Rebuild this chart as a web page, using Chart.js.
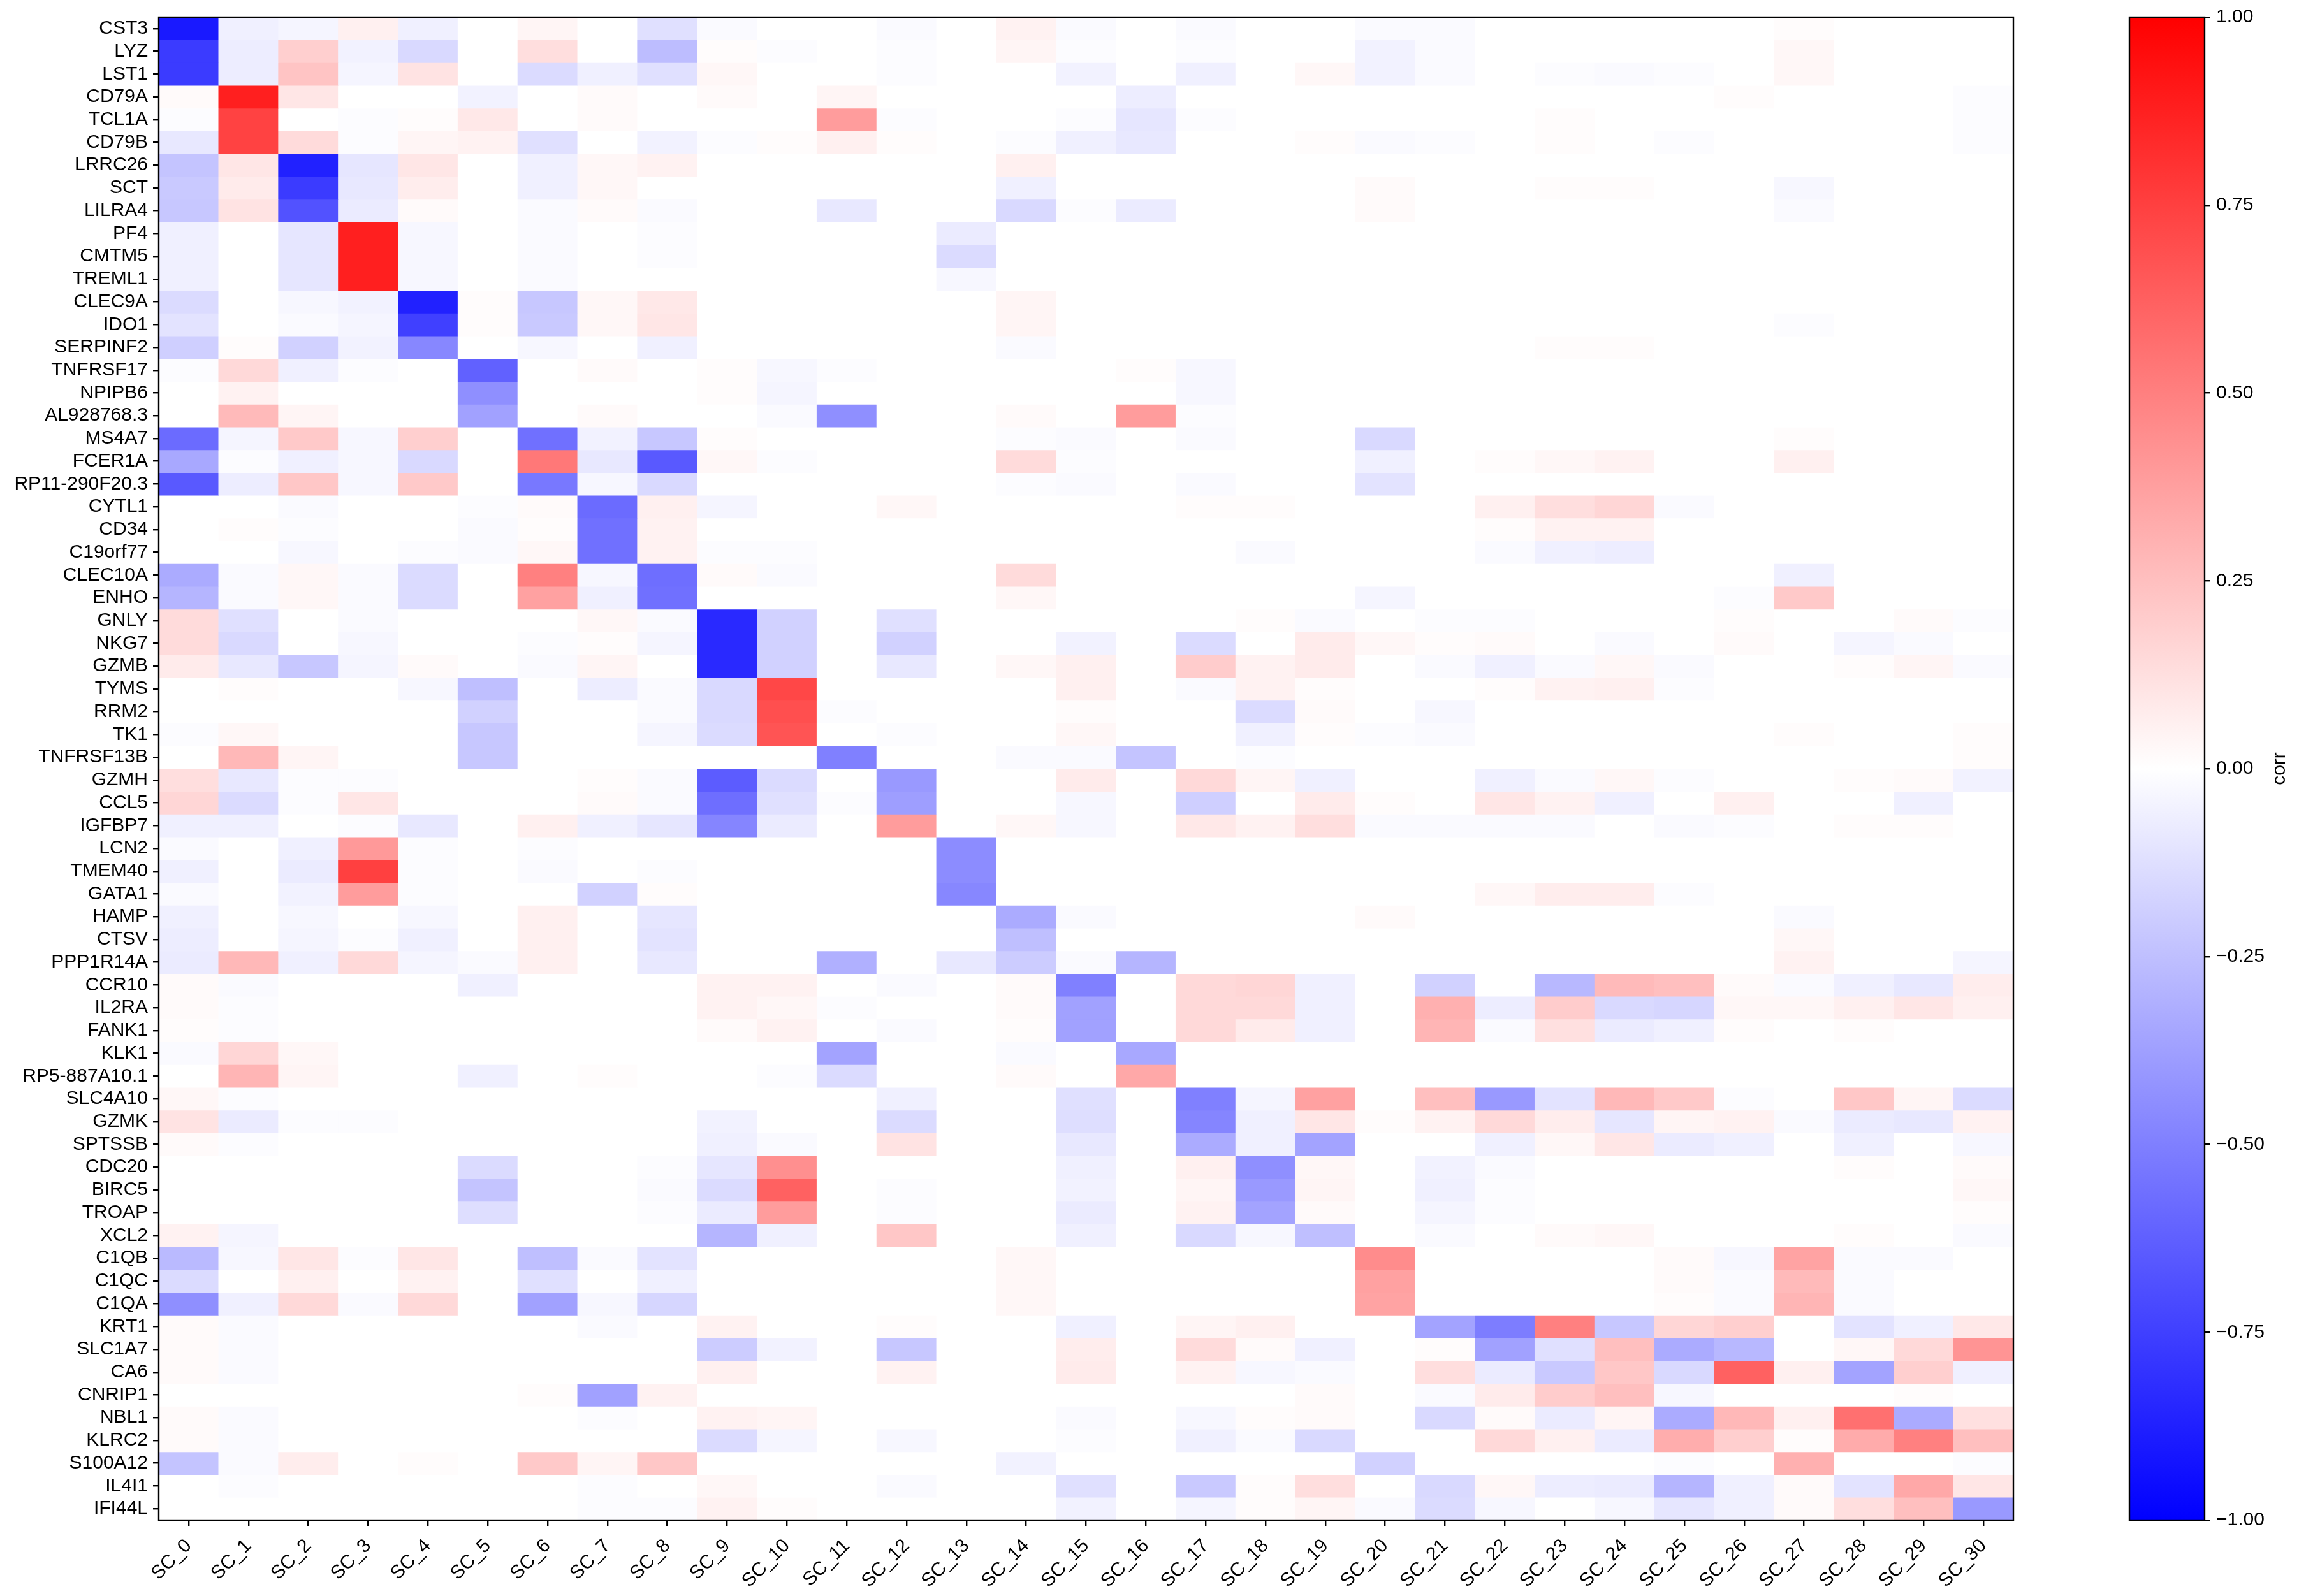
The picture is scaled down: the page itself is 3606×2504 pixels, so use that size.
<!DOCTYPE html>
<html>
<head>
<meta charset="utf-8">
<script src="https://cdn.jsdelivr.net/npm/chart.js@4.4.1/dist/chart.umd.min.js"></script>
<style>
  html, body { margin: 0; padding: 0; background: #fff; }
  #wrap { position: relative; width: 3606px; height: 2504px; }
  canvas { position: absolute; left: 0; top: 0; }
</style>
</head>
<body>
<div id="wrap">
  <canvas id="heatmap" width="3606" height="2504"></canvas>
  <canvas id="colorbar" width="3606" height="2504"></canvas>
</div>
<script>
// Row labels (genes), top to bottom
const genes = [
  'CST3', 'LYZ', 'LST1', 'CD79A', 'TCL1A', 'CD79B', 'LRRC26', 'SCT', 'LILRA4', 'PF4',
  'CMTM5', 'TREML1', 'CLEC9A', 'IDO1', 'SERPINF2', 'TNFRSF17', 'NPIPB6', 'AL928768.3', 'MS4A7', 'FCER1A',
  'RP11-290F20.3', 'CYTL1', 'CD34', 'C19orf77', 'CLEC10A', 'ENHO', 'GNLY', 'NKG7', 'GZMB', 'TYMS',
  'RRM2', 'TK1', 'TNFRSF13B', 'GZMH', 'CCL5', 'IGFBP7', 'LCN2', 'TMEM40', 'GATA1', 'HAMP',
  'CTSV', 'PPP1R14A', 'CCR10', 'IL2RA', 'FANK1', 'KLK1', 'RP5-887A10.1', 'SLC4A10', 'GZMK', 'SPTSSB',
  'CDC20', 'BIRC5', 'TROAP', 'XCL2', 'C1QB', 'C1QC', 'C1QA', 'KRT1', 'SLC1A7', 'CA6',
  'CNRIP1', 'NBL1', 'KLRC2', 'S100A12', 'IL4I1', 'IFI44L'
];

// Column labels (components)
const components = [
  'SC_0', 'SC_1', 'SC_2', 'SC_3', 'SC_4', 'SC_5', 'SC_6', 'SC_7', 'SC_8', 'SC_9',
  'SC_10', 'SC_11', 'SC_12', 'SC_13', 'SC_14', 'SC_15', 'SC_16', 'SC_17', 'SC_18', 'SC_19',
  'SC_20', 'SC_21', 'SC_22', 'SC_23', 'SC_24', 'SC_25', 'SC_26', 'SC_27', 'SC_28', 'SC_29', 'SC_30'
];

// Colorbar ticks
const cbarTicks = [-1, -0.75, -0.5, -0.25, 0, 0.25, 0.5, 0.75, 1];

// Correlation values, one row per gene, one column per component
const corr = [
  [-0.9,-0.06,-0.04,0.06,-0.06,0,0.04,0,-0.12,-0.02,0,0,-0.02,0,0.05,-0.02,0,-0.02,0,0,-0.02,-0.02,0,0,0,0,0,0.01,0,0,0],
  [-0.77,-0.07,0.19,-0.05,-0.15,0,0.13,0,-0.26,0.01,-0.01,0,-0.01,0,0.04,-0.01,0,-0.01,0,0,-0.05,-0.02,0,0,0,0,0,0.03,0,0,0],
  [-0.77,-0.07,0.23,-0.04,0.11,0,-0.14,-0.06,-0.12,0.03,0,0,-0.01,0,0,-0.05,0,-0.06,0,0.03,-0.05,-0.02,0,-0.01,-0.02,-0.01,0,0.03,0,0,0],
  [0.02,0.88,0.1,0,0,-0.05,0,0.02,0,0.02,0,0.04,0,0,0,0,-0.07,0,0,0,0,0,0,0,0,0,0.01,0,0,0,-0.01],
  [-0.01,0.74,0,-0.01,0.01,0.09,0,0.02,0,0,0,0.39,-0.01,0,0,-0.01,-0.1,-0.01,0,0,0,0,0,0.01,0,0,0,0,0,0,-0.01],
  [-0.09,0.74,0.14,-0.01,0.04,0.05,-0.12,0,-0.05,-0.01,0.01,0.06,0.01,0,-0.01,-0.06,-0.09,0,0,0.01,-0.02,-0.01,0,0.01,0,-0.01,0,0,0,0,-0.01],
  [-0.23,0.1,-0.87,-0.1,0.1,0,-0.06,0.03,0.05,0,0,0,0,0,0.06,0,0,0,0,0,0,0,0,0,0,0,0,0,0,0,0],
  [-0.21,0.08,-0.77,-0.09,0.07,0,-0.06,0.03,0,0,0,0,0,0,-0.06,0,0,0,0,0,0.02,0,0,0.01,0.01,0,0,-0.03,0,0,0],
  [-0.22,0.11,-0.68,-0.08,0.02,0,-0.02,0.02,-0.02,0,0,-0.09,0,0,-0.15,-0.01,-0.08,0,0,0,0.02,0,0,0,0,0,0,-0.02,0,0,0],
  [-0.06,0,-0.1,0.88,-0.03,0,-0.02,0,-0.01,0,0,0,0,-0.08,0,0,0,0,0,0,0,0,0,0,0,0,0,0,0,0,0],
  [-0.06,0,-0.1,0.88,-0.03,0,-0.02,0,-0.01,0,0,0,0,-0.14,0,0,0,0,0,0,0,0,0,0,0,0,0,0,0,0,0],
  [-0.06,0,-0.1,0.88,-0.03,0,-0.02,0,0,0,0,0,0,-0.03,0,0,0,0,0,0,0,0,0,0,0,0,0,0,0,0,0],
  [-0.14,0,-0.03,-0.05,-0.87,0.01,-0.22,0.03,0.09,0,0,0,0,0,0.04,0,0,0,0,0,0,0,0,0,0,0,0,0,0,0,0],
  [-0.11,0,-0.02,-0.04,-0.75,0.01,-0.21,0.03,0.1,0,0,0,0,0,0.04,0,0,0,0,0,0,0,0,0,0,0,0,-0.01,0,0,0],
  [-0.19,0.01,-0.18,-0.05,-0.47,0,-0.03,0,-0.06,0,0,0,0,0,-0.02,0,0,0,0,0,0,0,0,0.01,0.01,0,0,0,0,0,0],
  [-0.01,0.15,-0.06,-0.01,0,-0.62,0,0.02,0,0.01,-0.03,-0.01,0,0,0,0,0.01,-0.03,0,0,0,0,0,0,0,0,0,0,0,0,0],
  [0,0.05,0,0,0,-0.44,0,0,0,0.01,-0.04,0,0,0,0,0,0,-0.03,0,0,0,0,0,0,0,0,0,0,0,0,0],
  [0,0.27,0.04,0,0,-0.37,0,0.02,0,0,-0.02,-0.44,0,0,0.02,0,0.39,-0.01,0,0,0,0,0,0,0,0,0,0,0,0,0],
  [-0.58,-0.04,0.21,-0.03,0.19,0,-0.56,-0.05,-0.22,0.01,0,0,0,0,-0.01,-0.02,0,-0.02,0,0,-0.15,0,0,0,0,0,0,0.01,0,0,0],
  [-0.34,-0.01,-0.06,-0.03,-0.15,0,0.53,-0.09,-0.65,0.03,-0.01,0,0,0,0.14,-0.01,0,0,0,0,-0.06,0,0.01,0.03,0.05,0,0,0.06,0,0,0],
  [-0.65,-0.07,0.22,-0.03,0.21,0,-0.53,-0.03,-0.15,0,0,0,0,0,-0.01,-0.02,0,-0.02,0,0,-0.11,0,0,0,0,0,0,0,0,0,0],
  [0,0,-0.02,0,0,-0.01,0.02,-0.58,0.06,-0.04,0,0,0.03,0,0,0,0,0.01,0.01,0,0,0,0.06,0.13,0.16,-0.02,0,0,0,0,0],
  [0,0.01,-0.01,0,0,-0.02,0.01,-0.56,0.05,0,0,0,0,0,0,0,0,0,0,0,0,0,0.01,0.05,0.05,0,0,0,0,0,0],
  [0,0,-0.03,0,-0.01,-0.02,0.03,-0.56,0.05,-0.01,-0.01,0,0,0,0,0,0,0,-0.02,0,0,0,-0.02,-0.06,-0.07,0,0,0,0,0,0],
  [-0.33,-0.02,0.03,-0.02,-0.14,0,0.5,-0.03,-0.57,0.02,-0.02,0,0,0,0.14,0,0,0,0,0,0,0,0,0,0,0,0,-0.06,0,0,0],
  [-0.29,-0.02,0.03,-0.02,-0.14,0,0.37,-0.06,-0.56,0,0,0,0,0,0.03,0,0,0,0,0,-0.04,0,0,0,0,0,-0.01,0.21,0,0,0],
  [0.14,-0.12,0,-0.02,0,0,0,0.03,-0.02,-0.84,-0.18,0,-0.12,0,0,0,0,0,0.01,-0.02,0,-0.01,-0.01,0,0,0,0.01,0,0,0.02,-0.01],
  [0.14,-0.15,0,-0.03,0,0,-0.01,0.01,-0.04,-0.84,-0.18,0,-0.18,0,0,-0.05,0,-0.14,0,0.08,0.03,0.01,0.02,0,-0.02,0,0.02,0,-0.04,-0.02,0],
  [0.08,-0.09,-0.22,-0.04,0.02,0,-0.02,0.04,0,-0.84,-0.18,0,-0.09,0,0.03,0.06,0,0.2,0.05,0.08,0,-0.02,-0.06,-0.02,0.03,-0.02,0,0,0.01,0.04,-0.02],
  [0,0.01,0,0,-0.03,-0.25,0,-0.07,-0.02,-0.15,0.72,0,0,0,0,0.06,0,-0.02,0.05,0.01,0,0,0.01,0.05,0.06,-0.01,0,0,0,0,0],
  [0,0,0,0,0,-0.18,0,0,-0.02,-0.15,0.69,-0.01,0,0,0,0.01,0,0,-0.14,0.02,0,-0.03,0,0,0,0,0,0,0,0,0],
  [-0.01,0.03,0,0,0,-0.22,0,0,-0.04,-0.14,0.67,0,-0.01,0,0,0.03,0,0,-0.06,0.01,-0.01,-0.02,0,0,0,0,0,0.01,0,0,0.01],
  [0,0.28,0.04,0,0,-0.22,0,0,0,0,0,-0.5,0,0,-0.02,-0.02,-0.23,0,-0.01,0,0,0,0,0,0,0,0,0,0,0,0.01],
  [0.13,-0.09,-0.01,-0.01,0,0,0,0.01,-0.02,-0.64,-0.14,0,-0.4,0,0,0.08,0,0.15,0.04,-0.06,0,0,-0.06,-0.02,0.03,-0.01,0,0,0.01,0.02,-0.05],
  [0.16,-0.14,-0.01,0.1,0,0,0,0.02,-0.02,-0.57,-0.12,-0.01,-0.38,0,0,-0.03,0,-0.19,0,0.08,0.01,0,0.1,0.05,-0.06,0,0.06,0,0,-0.06,0],
  [-0.06,-0.06,0,-0.01,-0.09,0,0.06,-0.06,-0.1,-0.48,-0.08,0,0.39,0,0.03,-0.03,0,0.09,0.05,0.13,-0.02,-0.02,-0.02,-0.02,0,-0.02,-0.01,0,0.01,0.01,0],
  [-0.02,0,-0.06,0.4,-0.01,0,-0.01,0,0,0,0,0,0,-0.45,0,0,0,0,0,0,0,0,0,0,0,0,0,0,0,0,0],
  [-0.06,0,-0.08,0.75,-0.01,0,-0.02,0,-0.01,0,0,0,0,-0.45,0,0,0,0,0,0,0,0,0,0,0,0,0,0,0,0,0],
  [-0.02,0,-0.05,0.39,-0.01,0,0,-0.18,0.01,0,0,0,0,-0.47,0,0,0,0,0,0,0,0,0.03,0.07,0.07,-0.01,0,0,0,0,0],
  [-0.06,0,-0.03,0,-0.03,0,0.06,0,-0.1,0,0,0,0,0,-0.33,-0.02,0,0,0,0,0.02,0,0,0,0,0,0,-0.02,0,0,0],
  [-0.07,0,-0.04,-0.01,-0.06,0,0.06,0,-0.11,0,0,0,0,0,-0.25,0,0,0,0,0,0,0,0,0,0,0,0,0.03,0,0,0],
  [-0.08,0.28,-0.06,0.15,-0.04,-0.02,0.06,0,-0.09,0,0,-0.31,0,-0.09,-0.2,-0.02,-0.29,0,0,0,0,0,0,0,0,0,0,0.05,0,0,-0.04],
  [0.02,-0.02,0,0,0,-0.06,0,0,0,0.05,0.05,0,-0.02,0,0.02,-0.5,0,0.15,0.16,-0.06,0,-0.18,0,-0.28,0.27,0.25,0.02,-0.02,-0.06,-0.09,0.07],
  [0.02,-0.01,0,0,0,0,0,0,0,0.05,0.03,-0.01,0,0,0.02,-0.37,0,0.15,0.15,-0.06,0,0.31,-0.07,0.2,-0.15,-0.16,0.03,0.03,0.06,0.1,0.06],
  [0.01,-0.01,0,0,0,0,0,0,0,0.02,0.05,0,-0.02,0,0.01,-0.37,0,0.15,0.08,-0.06,0,0.29,-0.02,0.12,-0.08,-0.06,0.01,0,0.01,0,0],
  [-0.02,0.16,0.03,0,0,0,0,0,0,0,0,-0.36,0,0,-0.02,0,-0.34,0,0,0,0,0,0,0,0,0,0,0,0,0,0],
  [0,0.29,0.04,0,0,-0.06,0,0.01,0,0,-0.01,-0.14,0,0,0.02,0,0.34,0,0,0,0,0,0,0,0,0,0,0,0,0,0],
  [0.03,-0.01,0,0,0,0,0,0,0,0,0,0,-0.06,0,0,-0.12,0,-0.5,-0.04,0.37,0,0.25,-0.4,-0.11,0.28,0.21,-0.01,0,0.22,0.04,-0.14],
  [0.11,-0.08,-0.01,-0.01,0,0,0,0,0,-0.05,0,0,-0.14,0,0,-0.13,0,-0.48,-0.06,0.1,0.01,0.05,0.15,0.07,-0.1,0.04,0.05,-0.02,-0.08,-0.09,0.05],
  [0.02,-0.01,0,0,0,0,0,0,0,-0.06,-0.02,0,0.11,0,0,-0.09,0,-0.33,-0.06,-0.36,0,0,-0.06,0.03,0.1,-0.08,-0.06,0,-0.06,0,-0.03],
  [0,0,0,0,0,-0.14,0,0,-0.01,-0.1,0.44,0,0,0,0,-0.06,0,0.06,-0.44,0.03,0,-0.05,-0.02,0,0,0,0,0,0.01,0,0.02],
  [0,0,0,0,0,-0.23,0,0,-0.02,-0.14,0.62,0,-0.01,0,0,-0.05,0,0.04,-0.4,0.04,0,-0.06,-0.01,0,0,0,0,0,0,0,0.03],
  [0,0,0,0,0,-0.13,0,0,-0.01,-0.08,0.39,0,-0.01,0,0,-0.08,0,0.05,-0.36,0.02,0,-0.04,-0.01,0,0,0,0,0,0,0,0.01],
  [0.05,-0.04,0,0,0,0,0,0,0,-0.29,-0.06,0,0.22,0,0,-0.06,0,-0.15,-0.03,-0.25,0,-0.02,0,0.02,0.03,0,0,0,0.01,0,-0.02],
  [-0.27,-0.03,0.1,-0.01,0.1,0,-0.25,-0.02,-0.11,0,0,0,0,0,0.03,0,0,0,0,0,0.45,0,0,0,0,0.02,-0.03,0.36,-0.02,-0.02,0],
  [-0.14,0,0.06,0,0.05,0,-0.12,0,-0.06,0,0,0,0,0,0.03,0,0,0,0,0,0.37,0,0,0,0,0.02,-0.02,0.27,-0.02,0,0],
  [-0.44,-0.06,0.15,-0.02,0.15,0,-0.37,-0.03,-0.16,0,0,0,0,0,0.03,0,0,0,0,0,0.36,0,0,0,0,0.01,-0.02,0.29,-0.02,0,0],
  [0.02,-0.02,0,0,0,0,0,-0.02,0,0.05,0,0,0.01,0,0,-0.06,0,0.04,0.06,0,0,-0.36,-0.51,0.5,-0.22,0.16,0.19,0,-0.11,-0.06,0.09],
  [0.02,-0.02,0,0,0,0,0,0,0,-0.2,-0.05,0,-0.22,0,0,0.07,0,0.14,0.02,-0.06,0,0.01,-0.37,-0.12,0.25,-0.33,-0.28,0,0.03,0.15,0.42],
  [0.02,-0.02,0,0,0,0,0,0,0,0.06,0,0,0.05,0,0,0.08,0,0.05,-0.03,-0.02,0,0.13,-0.08,-0.21,0.22,-0.15,0.62,0.06,-0.36,0.19,-0.06],
  [0,0,0,0,0,0,0.01,-0.37,0.05,0,0,0,0,0,0,0,0,0,0,0.02,0,-0.02,0.08,0.2,0.25,-0.03,0,0,0,0.01,0],
  [0.02,-0.02,0,0,0,0,0,-0.01,0,0.05,0.04,0,0,0,0,-0.02,0,-0.03,0.01,0.02,0,-0.15,0.02,-0.08,0.04,-0.33,0.28,0.06,0.56,-0.33,0.12],
  [0.02,-0.02,0,0,0,0,0,0,0,-0.14,-0.04,0,-0.03,0,0,-0.01,0,-0.06,-0.02,-0.15,0,0,0.15,0.06,-0.08,0.32,0.19,0.01,0.33,0.5,0.25],
  [-0.23,-0.02,0.07,0,0.01,0,0.21,0.04,0.22,0,0,0,0,0,-0.05,0,0,0,0,0,-0.18,0,0,0,0,-0.01,0,0.31,0,0,-0.01],
  [0,-0.01,0,0,0,0,0,-0.01,0,0.03,0,0,-0.02,0,0,-0.12,0,-0.21,0.01,0.13,0,-0.15,0.03,-0.07,-0.08,-0.29,-0.06,0.02,-0.11,0.34,0.1],
  [0,0,0,0,0,0,0,-0.01,-0.01,0.05,0.01,0,0,0,0,-0.05,0,-0.04,0.01,0.04,-0.02,-0.14,-0.03,0,-0.03,-0.1,-0.06,0.02,0.13,0.25,-0.4]
];

const FONT = { family: '"Liberation Sans", Arial, Helvetica, sans-serif', size: 30 };
Chart.defaults.color = '#000';
Chart.defaults.font.family = FONT.family;

// matplotlib "bwr" colormap, vmin -1, vmax 1
function bwr(v) {
  v = Math.max(-1, Math.min(1, v));
  if (v < 0) {
    const t = Math.round(255 * (1 + v));
    return `rgb(${t},${t},255)`;
  }
  const t = Math.round(255 * (1 - v));
  return `rgb(255,${t},${t})`;
}

function fmtTick(v) {
  const s = Math.abs(v).toFixed(2);
  return v < 0 ? '\u2212' + s : s;
}

// Axes frame drawn on top of the cells
const framePlugin = {
  id: 'frame',
  afterDatasetsDraw(chart) {
    const { ctx, chartArea: a } = chart;
    ctx.save();
    ctx.strokeStyle = '#000';
    ctx.lineWidth = 2.4;
    ctx.strokeRect(a.left, a.top, a.right - a.left, a.bottom - a.top);
    ctx.restore();
  }
};

// Rotated colorbar label
const cbarLabelPlugin = {
  id: 'cbarLabel',
  afterDraw(chart) {
    const { ctx, chartArea: a } = chart;
    ctx.save();
    ctx.translate(3576, (a.top + a.bottom) / 2);
    ctx.rotate(-Math.PI / 2);
    ctx.font = `${FONT.size}px ${FONT.family}`;
    ctx.fillStyle = '#000';
    ctx.textAlign = 'center';
    ctx.textBaseline = 'middle';
    ctx.fillText('corr', 0, 0);
    ctx.restore();
  }
};

const tickGrid = {
  display: true,
  drawOnChartArea: false,
  drawTicks: true,
  tickLength: 9,
  lineWidth: 2.4,
  color: '#000'
};

// One dataset per gene row; each bar is one cell
const datasets = genes.map((gene, r) => ({
  label: gene,
  data: components.map(() => [r - 0.5, r + 0.5]),
  backgroundColor: corr[r].map(bwr),
  borderWidth: 0,
  grouped: false,
  barPercentage: 1,
  categoryPercentage: 1
}));

new Chart(document.getElementById('heatmap'), {
  type: 'bar',
  data: { labels: components, datasets },
  options: {
    responsive: false,
    animation: false,
    devicePixelRatio: 1,
    layout: { padding: { left: 0, top: 27, right: 448, bottom: 0 } },
    plugins: { legend: { display: false }, tooltip: { enabled: false } },
    scales: {
      x: {
        type: 'category',
        offset: true,
        grid: { ...tickGrid, offset: false },
        border: { display: false },
        ticks: { autoSkip: false, minRotation: 45, maxRotation: 45, font: FONT, color: '#000', padding: 14 },
        afterFit: (s) => { s.height = 119; }
      },
      y: {
        type: 'linear',
        min: -0.5,
        max: 65.5,
        reverse: true,
        afterBuildTicks: (s) => { s.ticks = genes.map((g, i) => ({ value: i })); },
        grid: tickGrid,
        border: { display: false },
        ticks: { autoSkip: false, font: FONT, color: '#000', padding: 8, callback: (v) => genes[v] },
        afterFit: (s) => { s.width = 249; }
      }
    }
  },
  plugins: [framePlugin]
});

new Chart(document.getElementById('colorbar'), {
  type: 'bar',
  data: {
    labels: ['corr'],
    datasets: [{
      data: [[-1, 1]],
      borderWidth: 0,
      barPercentage: 1,
      categoryPercentage: 1,
      backgroundColor: (c) => {
        const a = c.chart.chartArea;
        if (!a) return '#fff';
        const g = c.chart.ctx.createLinearGradient(0, a.bottom, 0, a.top);
        g.addColorStop(0, 'rgb(0,0,255)');
        g.addColorStop(0.5, 'rgb(255,255,255)');
        g.addColorStop(1, 'rgb(255,0,0)');
        return g;
      }
    }]
  },
  options: {
    responsive: false,
    animation: false,
    devicePixelRatio: 1,
    layout: { padding: { left: 3340, top: 27, right: 0, bottom: 119 } },
    plugins: { legend: { display: false }, tooltip: { enabled: false } },
    scales: {
      x: { display: false },
      y: {
        position: 'right',
        min: -1,
        max: 1,
        afterBuildTicks: (s) => { s.ticks = cbarTicks.map((v) => ({ value: v })); },
        grid: tickGrid,
        border: { display: false },
        ticks: { font: FONT, color: '#000', padding: 9, callback: (v) => fmtTick(v) },
        afterFit: (s) => { s.width = 148; }
      }
    }
  },
  plugins: [framePlugin, cbarLabelPlugin]
});
</script>
</body>
</html>
